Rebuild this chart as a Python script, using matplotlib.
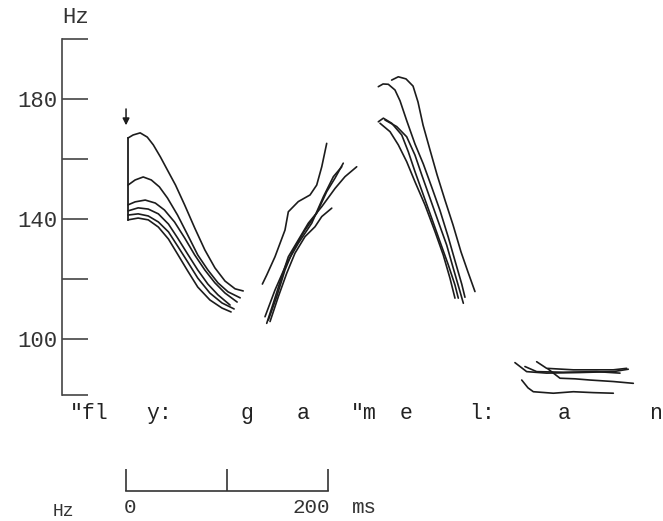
import matplotlib
matplotlib.use("Agg")
import matplotlib.pyplot as plt

# pitch contours: time in ms (0 = start of scale bar), F0 in Hz
# "fly:" - six repetitions
fly_t = [
    [2, 7, 14, 21, 27, 34, 41, 49, 58, 68, 78, 88, 98, 108, 116],
    [2, 9, 17, 25, 33, 41, 51, 61, 71, 81, 91, 101, 113],
    [2, 9, 19, 29, 38, 48, 58, 68, 78, 88, 98, 110],
    [2, 12, 22, 32, 42, 51, 61, 71, 81, 91, 103],
    [2, 12, 22, 32, 42, 51, 61, 71, 83, 95, 107],
    [2, 12, 22, 32, 42, 51, 61, 71, 83, 95, 104],
]
fly_hz = [
    [167, 168, 168.7, 167.3, 164.7, 160.7, 156.3, 151.3, 144.7, 137, 129.7, 123.7, 119.3, 116.7, 116],
    [151.3, 153, 154, 153, 150.7, 147, 141.3, 134.7, 128, 123, 118.7, 115.7, 113.7],
    [144.7, 145.7, 146.3, 145.3, 143, 139, 133.7, 128, 123, 118.7, 115.3, 112.3],
    [142.7, 143.7, 143.3, 141.7, 138.3, 133.7, 128.3, 123, 118.3, 114.7, 111.3],
    [141.3, 141.7, 141, 139, 135.7, 131, 125.7, 120.3, 115.3, 112, 110],
    [139.7, 140.3, 139.7, 137.3, 133.3, 128.3, 122.7, 117.3, 113, 110.3, 109],
]

# "ga" - rising
ga_t = [
    [135, 139.3, 147.5, 157.4, 160.7, 170.6, 182.2, 188.8, 193.8, 198.7],
    [139.3, 145.8, 154.2, 160.7, 170.6, 180.5, 193.8, 207, 216.8, 228.4],
    [140.9, 149.2, 157.4, 165.6, 177.2, 188.8, 198.7, 206.9, 215.1],
    [142.6, 150.8, 159.1, 167.3, 177.2, 187.1, 193.8, 203.7],
    [137.6, 147.5, 159.1, 170.6, 183.9, 195.4, 205.3, 213.6],
]
ga_hz = [
    [118.3, 121.3, 127.4, 136.3, 142.4, 145.8, 148, 151.3, 157.4, 165.2],
    [105.2, 111.9, 120.8, 127.4, 133, 138.6, 144.1, 150.2, 154.1, 157.4],
    [106.3, 114.1, 123, 129.7, 136.3, 141.9, 149.1, 153.6, 158.6],
    [105.8, 114.1, 121.9, 128.6, 134.1, 137.4, 140.8, 143.6],
    [107.4, 116.3, 125.2, 131.9, 138.6, 147.4, 154.1, 157.4],
]

# "me" - falling
me_t = [
    [263, 269.6, 277.2, 284.2, 289.1, 294.1, 301, 308, 315.8, 323.8, 331.7, 338.6, 345.5],
    [249.8, 254.5, 259.7, 266.3, 271.3, 277.9, 286.1, 294.4, 302.7, 310.9, 319.1, 325.7, 332.4, 335.6],
    [249.8, 254.8, 263.1, 273, 279.5, 286.1, 294.4, 302.7, 310.9, 319.1, 325.7, 329],
    [256.4, 268, 277.9, 286.1, 292.8, 301, 309.2, 317.5, 324, 330.7, 334],
    [251.5, 261.4, 269.6, 277.9, 286.1, 296, 305.9, 314.1, 320.8, 325.7],
]
me_hz = [
    [186.3, 187.4, 186.7, 184.3, 179, 171.3, 163, 154.7, 146.3, 138, 129, 122.3, 115.8],
    [184.1, 185, 184.9, 183, 179.4, 172.8, 165, 158.3, 150.6, 142.8, 133.9, 126.1, 118.3, 113.9],
    [172.4, 173.6, 171.9, 168, 162.4, 155.8, 148, 140.2, 132.4, 124.7, 118, 113.6],
    [173, 170.8, 167.4, 161.3, 154.7, 146.9, 139.1, 131.3, 123.6, 115.8, 111.9],
    [171.9, 169.1, 164.7, 159.1, 152.4, 144.7, 135.8, 128, 120.2, 113.6],
]

# "an" - low and flat
an_t = [
    [385.1, 396.7, 416.5, 449.5, 482.5, 497.3],
    [395, 406.6, 433, 466, 489.1],
    [406.6, 416.5, 442.9, 482.5, 495.7],
    [417.8, 429.7, 444.6, 459.4, 482.5, 502.3],
    [391.8, 398, 403.3, 423.1, 442.9, 462.7, 482.5],
]
an_hz = [
    [92.1, 89.1, 88.6, 88.8, 89.1, 89.9],
    [90.8, 89.1, 88.9, 89.1, 88.6],
    [92.4, 90.2, 89.7, 89.7, 90.2],
    [90, 86.9, 86.7, 86.3, 85.8, 85.2],
    [86.3, 83.7, 82.4, 81.9, 82.4, 82.1, 81.9],
]

segments = ['"fl', 'y:', 'g', 'a', '"m', 'e', 'l:', 'a', 'n']
segment_t = [-36.6, 32.7, 119.8, 175.2, 235.6, 277.2, 352.5, 433.7, 523.8]

yticks = [200, 180, 160, 140, 120, 100, 81.3]
ylabels = ['', '180', '', '140', '', '100', '']
scalebar_t = [0, 100, 200]

ink = '#1c1c1c'
grey = '#333333'
mono = 'Liberation Mono'

fig = plt.figure(figsize=(6.63, 5.21), dpi=100)
ax = fig.add_axes([0, 0, 1, 1])
ax.set_xlim(-124.8, 531.7)
ax.set_ylim(39.3, 213)

for group_t, group_hz in [(fly_t, fly_hz), (ga_t, ga_hz), (me_t, me_hz), (an_t, an_hz)]:
    for t, hz in zip(group_t, group_hz):
        ax.plot(t, hz, color=ink, lw=1.2, solid_capstyle='round')

# vertical onset line joining the starts of "fly:"
starts = [h[0] for h in fly_hz]
ax.plot([1.5, 1.5], [min(starts), max(starts)], color=ink, lw=1.3)
ax.annotate('', xy=(0, 170.3), xytext=(0, 177.6),
            arrowprops=dict(arrowstyle='-|>', color=ink, lw=1.1,
                            mutation_scale=10))

# y axis
for s in ['top', 'right', 'bottom']:
    ax.spines[s].set_visible(False)
ax.spines['left'].set_position(('data', -63.4))
ax.spines['left'].set_bounds(81.3, 200)
ax.spines['left'].set_color('#444444')
ax.spines['left'].set_linewidth(1.2)
ax.set_xticks([])
ax.set_yticks(yticks)
ax.set_yticklabels(ylabels, fontfamily=mono, fontsize=16, color=grey)
ax.tick_params(axis='y', direction='in', length=18.5, width=1.2,
               color='#444444', pad=3)
ax.text(-49.5, 207.3, 'Hz', family=mono, fontsize=16, color=grey,
        ha='center', va='center')

# segment labels
for lab, t in zip(segments, segment_t):
    ax.text(t, 75.3, lab, family=mono, fontsize=15.5, color='#222222',
            ha='center', va='center')

# time scale bar
ax.plot([scalebar_t[0], scalebar_t[-1]], [49.4, 49.4], color=grey, lw=1.2)
ax.vlines(scalebar_t, 49.4, 56.5, color=grey, lw=1.2)
ax.text(4, 43.7, '0', family=mono, fontsize=15, color=grey,
        ha='center', va='center')
ax.text(183, 43.7, '200', family=mono, fontsize=15, color=grey,
        ha='center', va='center')
ax.text(236, 43.7, 'ms', family=mono, fontsize=15, color=grey,
        ha='center', va='center')
ax.text(-62, 39.5, 'Hz', family=mono, fontsize=13, color=grey,
        ha='center', va='bottom')

fig.savefig('out.png', dpi=100)
